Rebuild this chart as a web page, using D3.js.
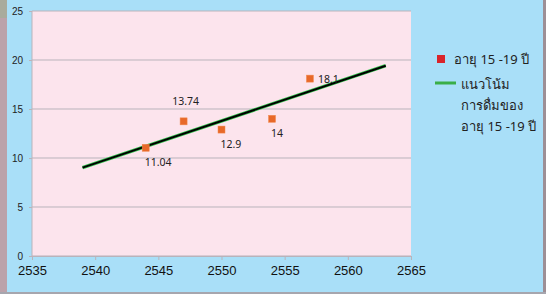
<!DOCTYPE html>
<html>
<head>
<meta charset="utf-8">
<script src="https://cdn.jsdelivr.net/npm/d3@7"></script>
<style>
  body { margin: 0; background: #a9dff8; }
  svg { display: block; font-family: "Noto Sans", "DejaVu Sans", sans-serif; }
</style>
</head>
<body>
<div id="chart"></div>
<script>
// data
var years = [2544, 2547, 2550, 2554, 2557];
var values = [11.04, 13.74, 12.9, 14, 18.1];
var labelPlace = ["below", "above", "below", "below", "right"];
var xTicks = [2535, 2540, 2545, 2550, 2555, 2560, 2565];
var yTicks = [0, 5, 10, 15, 20, 25];
var trendYears = [2539, 2563];
var seriesName = "อายุ 15 -19 ปี";
var trendName = ["แนวโน้ม", "การดื่มของ", "อายุ 15 -19 ปี"];

var W = 546, H = 294;
var margin = {top: 11, right: 135, bottom: 38, left: 32},
    width = W - margin.left - margin.right,
    height = H - margin.top - margin.bottom;

var svg = d3.select("#chart").append("svg")
    .attr("width", W)
    .attr("height", H);

// frame bits
svg.append("rect").attr("width", W).attr("height", H).attr("fill", "#a9dff8");
svg.append("rect").attr("x", 0).attr("y", 0).attr("width", 7).attr("height", H).attr("fill", "#bba2aa");
svg.append("rect").attr("x", 0).attr("y", 0).attr("width", 7).attr("height", 18).attr("fill", "#a9ab9c");
svg.append("rect").attr("x", 543).attr("y", 0).attr("width", 3).attr("height", H).attr("fill", "#9d8f96");
svg.append("rect").attr("x", 0).attr("y", 292).attr("width", W).attr("height", 2).attr("fill", "#a6a6ae");

var g = svg.append("g")
    .attr("transform", "translate(" + margin.left + "," + margin.top + ")");

var x = d3.scaleLinear().domain([2535, 2565]).range([0, width]);
var y = d3.scaleLinear().domain([0, 25]).range([height, 0]);

g.append("rect")
    .attr("width", width)
    .attr("height", height)
    .attr("fill", "#fce4ed");

// grid
g.selectAll(".grid").data(yTicks).enter().append("line")
    .attr("x1", 0).attr("x2", width)
    .attr("y1", function(d) {return y(d)})
    .attr("y2", function(d) {return y(d)})
    .attr("stroke", "#b9b3bb")
    .attr("stroke-width", 1);

g.append("line")
    .attr("x1", 0).attr("x2", 0).attr("y1", 0).attr("y2", height)
    .attr("stroke", "#b9b3bb");

// axes
var yAxis = g.append("g")
    .call(d3.axisLeft(y).tickValues(yTicks).tickSize(3).tickPadding(6));
yAxis.select(".domain").remove();
yAxis.selectAll("line").attr("stroke", "#b9b3bb");
yAxis.selectAll("text").attr("font-size", 10).attr("fill", "#222");

var xAxis = g.append("g")
    .attr("transform", "translate(0," + height + ")")
    .call(d3.axisBottom(x).tickValues(xTicks).tickFormat(d3.format("d")).tickSize(4).tickPadding(6));
xAxis.select(".domain").attr("stroke", "#b9b3bb");
xAxis.selectAll("line").attr("stroke", "#b9b3bb");
xAxis.selectAll("text").attr("font-size", 13).attr("fill", "#111");

// linear trend line
var mx = d3.mean(years), my = d3.mean(values);
var slope = d3.sum(years, function(d, i) {return (d - mx) * (values[i] - my)}) /
            d3.sum(years, function(d) {return (d - mx) * (d - mx)});
var trend = trendYears.map(function(d) {return [d, my + slope * (d - mx)]});

var line = d3.line()
    .x(function(d) {return x(d[0])})
    .y(function(d) {return y(d[1])});

g.append("path").datum(trend)
    .attr("d", line).attr("fill", "none")
    .attr("stroke", "#2fbf4a").attr("stroke-width", 3.5);
g.append("path").datum(trend)
    .attr("d", line).attr("fill", "none")
    .attr("stroke", "#000").attr("stroke-width", 2);

// points
var pts = years.map(function(d, i) {return {x: d, y: values[i], place: labelPlace[i]}});

g.selectAll(".pt").data(pts).enter().append("rect")
    .attr("x", function(d) {return x(d.x) - 3.5})
    .attr("y", function(d) {return y(d.y) - 3.5})
    .attr("width", 7).attr("height", 7)
    .attr("fill", "#e8692a")
    .attr("stroke", "#f28a4e").attr("stroke-width", 0.5);

g.selectAll(".lbl").data(pts).enter().append("text")
    .attr("x", function(d) {
        if (d.place == "right") return x(d.x) + 8;
        if (d.place == "above") return x(d.x) + 2;
        return x(d.x) - 1;
    })
    .attr("y", function(d) {
        if (d.place == "right") return y(d.y) + 4;
        if (d.place == "above") return y(d.y) - 16;
        return y(d.y) + 18;
    })
    .attr("text-anchor", function(d) {return d.place == "above" ? "middle" : "start"})
    .attr("font-size", 10.5)
    .attr("fill", "#222")
    .text(function(d) {return d.y});

// legend
var leg = svg.append("g").attr("transform", "translate(437,0)");
leg.append("rect").attr("x", 0).attr("y", 55).attr("width", 8).attr("height", 8).attr("fill", "#d9242a");
leg.append("text").attr("x", 17).attr("y", 64).attr("font-size", 13).attr("fill", "#222").text(seriesName);
leg.append("line").attr("x1", -2).attr("x2", 19).attr("y1", 83).attr("y2", 83)
    .attr("stroke", "#3aae47").attr("stroke-width", 3);
leg.selectAll(".tl").data(trendName).enter().append("text")
    .attr("x", 24)
    .attr("y", function(d, i) {return 89 + i * 21})
    .attr("font-size", 13).attr("fill", "#222")
    .text(function(d) {return d});
</script>
</body>
</html>
